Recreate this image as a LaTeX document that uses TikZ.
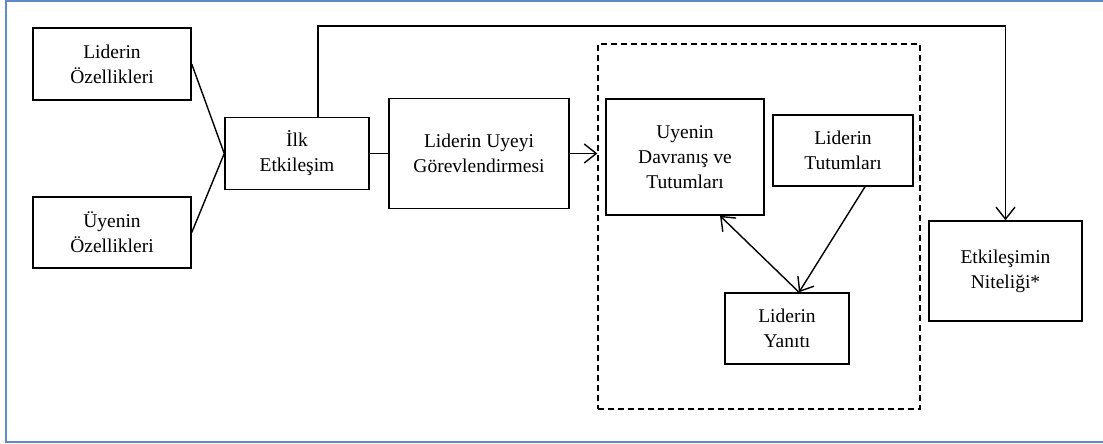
\documentclass[tikz,border=0pt]{standalone}
\usepackage{fontspec}
\setmainfont{Liberation Serif}
\usetikzlibrary{arrows.meta}
\definecolor{framecol}{RGB}{94,138,198}
\tikzset{
  blk/.style={draw, line width=1.5pt, inner sep=0pt, align=center,
    font=\fontsize{19.5}{25}\selectfont},
  link/.style={line width=1.4pt},
  arr/.style={line width=1.4pt, -{Straight Barb[length=12pt,width=19pt,line width=1.4pt]}},
}
\begin{document}
\begin{tikzpicture}[x=1pt,y=-1pt]
  \useasboundingbox (0,0) rectangle (1103,444);
  % frame
  \draw[framecol, line width=2.4pt] (1103,1.2) -- (6,1.2) -- (6,442) -- (1103,442);

  % boxes
  \node[blk, minimum width=158pt, minimum height=72pt] (lo) at (112,64) {Liderin\\Özellikleri};
  \node[blk, minimum width=158pt, minimum height=71pt] (uo) at (112,232.5) {Üyenin\\Özellikleri};
  \node[blk, minimum width=144pt, minimum height=72pt] (ie) at (297,153.5) {İlk\\Etkileşim};
  \node[blk, minimum width=180pt, minimum height=110pt] (lg) at (479,153.5) {Liderin Uyeyi\\Görevlendirmesi};
  \node[blk, minimum width=158pt, minimum height=116pt] (ud) at (685,157) {Uyenin\\Davranış ve\\Tutumları};
  \node[blk, minimum width=140pt, minimum height=71pt] (lt) at (843,150.5) {Liderin\\Tutumları};
  \node[blk, minimum width=124pt, minimum height=71pt] (ly) at (787,328.5) {Liderin\\Yanıtı};
  \node[blk, minimum width=153pt, minimum height=100pt] (en) at (1005.5,271) {Etkileşimin\\Niteliği*};

  % dashed group
  \node[draw, dash pattern=on 6pt off 4pt, line width=1.3pt,
        minimum width=322pt, minimum height=365pt, inner sep=0pt] (grp) at (759,226.5) {};

  % connectors
  \draw[link] (lo.east) -- (ie.west);
  \draw[link] (uo.east) -- (ie.west);
  \draw[link] (ie.east) -- (lg.west);
  \draw[arr] (lg.east) -- (grp.west |- lg.east);
  \coordinate (up) at ([xshift=21pt]ie.north);
  \coordinate (tl) at (up |- 0,26);
  \coordinate (tr) at (en.north |- 0,26);
  \draw[arr] (up) -- (tl) -- (tr) -- (en.north);
  \coordinate (ltb) at ([xshift=22pt]lt.south);
  \coordinate (lyt) at ([xshift=12pt]ly.north);
  \coordinate (udb) at ([xshift=35pt]ud.south);
  \draw[arr] (ltb) -- (lyt);
  \draw[arr] (lyt) -- (udb);
\end{tikzpicture}
\end{document}
